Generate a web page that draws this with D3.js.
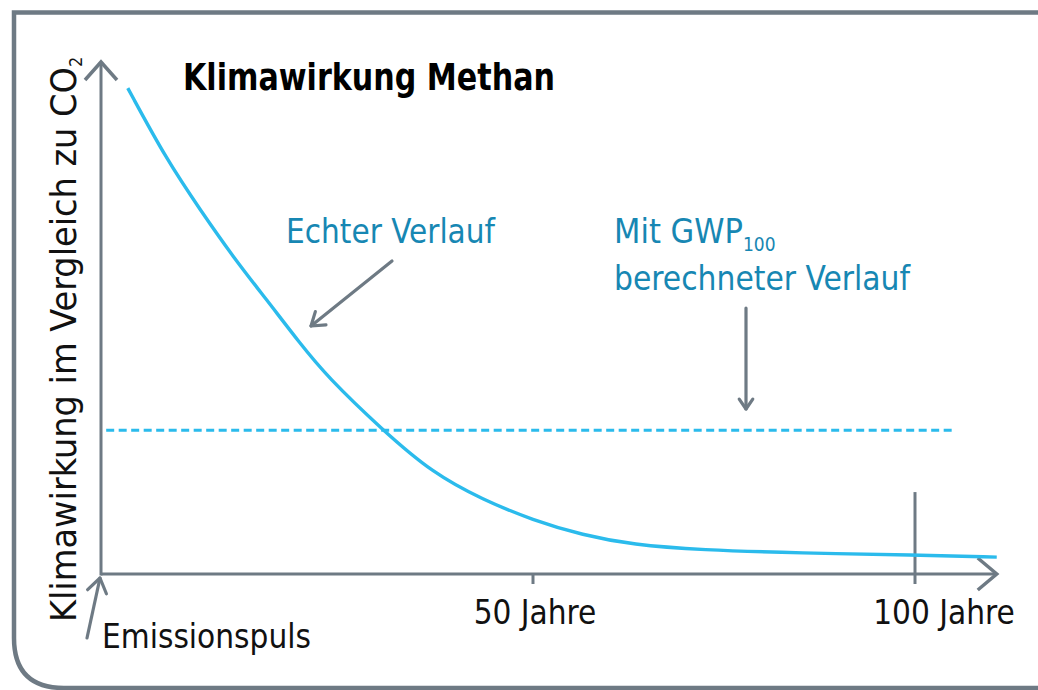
<!DOCTYPE html>
<html>
<head>
<meta charset="utf-8">
<script src="https://cdn.jsdelivr.net/npm/d3@7"></script>
<style>
  html, body { margin: 0; padding: 0; background: #fff; }
  svg { display: block; }
  text { font-family: "Liberation Sans Narrow", "DejaVu Sans Condensed", "Roboto Condensed", "Liberation Sans", sans-serif; }
</style>
</head>
<body>
<svg id="chart" width="1038" height="690"></svg>
<script>
// ---- data ----
const years = [3.1, 7.6, 11.5, 15.3, 19.2, 23.0, 26.2, 32.6, 38.4, 44.2, 50, 56.5, 63.1, 71.9, 85.0, 100, 110.7];
const actualEffect = [94.9, 80.9, 71.1, 61.9, 53.5, 45.1, 38.5, 28.1, 19.7, 14.5, 10.5, 7.6, 5.7, 4.7, 4.1, 3.7, 3.3];
const gwpYears = [0.6, 104.8];
const gwpEffect = [28.1, 28.1];
const tickYears = [50, 100];
const tickLabels = ["50 Jahre", "100 Jahre"];
const titleText = "Klimawirkung Methan";
const yLabelText = "Klimawirkung im Vergleich zu CO";
const realLabel = "Echter Verlauf";
const gwpLabel1 = "Mit GWP";
const gwpLabel2 = "berechneter Verlauf";
const pulseLabel = "Emissionspuls";

const grey = "#6e7a84";
const cyan = "#2bbbec";
const teal = "#1787b3";

const svg = d3.select("#chart");

// scales (schematic, piecewise linear time axis)
const x = d3.scaleLinear().domain([0, 50, 100]).range([101, 533, 915]);
const y = d3.scaleLinear().domain([0, 100]).range([574, 62]);

// frame with rounded bottom-left corner
svg.append("path")
  .attr("d", "M1045,12.5 L14,12.5 L14,638 Q14,688 64,688 L1045,688")
  .attr("fill", "none").attr("stroke", grey).attr("stroke-width", 4.5);

// axes
const xEnd = x(110.7);
svg.append("line").attr("x1", x(0)).attr("y1", y(0)).attr("x2", xEnd).attr("y2", y(0))
  .attr("stroke", grey).attr("stroke-width", 3);
svg.append("line").attr("x1", x(0)).attr("y1", y(0) + 1.5).attr("x2", x(0)).attr("y2", y(100))
  .attr("stroke", grey).attr("stroke-width", 3);
// arrow heads
svg.append("path").attr("d", `M${x(0)-16},${y(100)+18} L${x(0)},${y(100)} L${x(0)+16},${y(100)+18}`)
  .attr("fill", "none").attr("stroke", grey).attr("stroke-width", 3.5);
svg.append("path").attr("d", `M${xEnd-19},${y(0)-16} L${xEnd},${y(0)} L${xEnd-19},${y(0)+16}`)
  .attr("fill", "none").attr("stroke", grey).attr("stroke-width", 3.5);

// ticks
svg.selectAll(".tick").data(tickYears).enter().append("line")
  .attr("x1", d => x(d)).attr("x2", d => x(d))
  .attr("y1", d => d === 100 ? y(16) : y(0))
  .attr("y2", y(0) + 10)
  .attr("stroke", grey).attr("stroke-width", 3);

// tick labels
svg.selectAll(".tlabel").data(tickYears).enter().append("text")
  .attr("x", (d, i) => i === 0 ? x(d) + 2 : x(d) + 29)
  .attr("y", y(0) + 50)
  .attr("text-anchor", "middle")
  .attr("font-size", 33)
  .attr("fill", "#111")
  .text((d, i) => tickLabels[i]);

// GWP dashed line
const line = d3.line().x(d => x(d[0])).y(d => y(d[1]));
svg.append("path")
  .attr("d", line(gwpYears.map((v, i) => [v, gwpEffect[i]])))
  .attr("fill", "none").attr("stroke", cyan).attr("stroke-width", 3)
  .attr("stroke-dasharray", "8,4.5");

// real curve
const curve = d3.line().x(d => x(d[0])).y(d => y(d[1])).curve(d3.curveBasis);
svg.append("path")
  .attr("d", curve(years.map((v, i) => [v, actualEffect[i]])))
  .attr("fill", "none").attr("stroke", cyan).attr("stroke-width", 3.4);

// title
svg.append("text").attr("x", 183).attr("y", 90)
  .attr("font-size", 38).attr("font-weight", "bold").attr("fill", "#000")
  .attr("textLength", 372).attr("lengthAdjust", "spacingAndGlyphs")
  .text(titleText);

// y-axis label
const yl = svg.append("text")
  .attr("transform", "translate(76,622) rotate(-90)")
  .attr("font-size", 36).attr("fill", "#111");
yl.append("tspan").attr("textLength", 555).attr("lengthAdjust", "spacingAndGlyphs").text(yLabelText);
yl.append("tspan").attr("font-size", 18).attr("dy", 6).text("2");

// annotations
svg.append("text").attr("x", 286).attr("y", 243)
  .attr("font-size", 34).attr("fill", teal)
  .attr("textLength", 209).attr("lengthAdjust", "spacingAndGlyphs").text(realLabel);
const g1 = svg.append("text").attr("x", 614).attr("y", 243)
  .attr("font-size", 34).attr("fill", teal);
g1.append("tspan").text(gwpLabel1);
g1.append("tspan").attr("font-size", 19).attr("dy", 8).text("100");
svg.append("text").attr("x", 614).attr("y", 290)
  .attr("font-size", 34).attr("fill", teal)
  .attr("textLength", 296).attr("lengthAdjust", "spacingAndGlyphs").text(gwpLabel2);
svg.append("text").attr("x", 102).attr("y", 648)
  .attr("font-size", 33).attr("fill", "#111").text(pulseLabel);

// annotation arrows
function arrow(x1, y1, x2, y2, head) {
  const a = Math.atan2(y2 - y1, x2 - x1);
  svg.append("line").attr("x1", x1).attr("y1", y1).attr("x2", x2).attr("y2", y2)
    .attr("stroke", grey).attr("stroke-width", 3.2).attr("stroke-linecap", "round");
  const p = (ang) => [x2 - head * Math.cos(a + ang), y2 - head * Math.sin(a + ang)];
  const l = p(0.6), r = p(-0.6);
  svg.append("path").attr("d", `M${l[0]},${l[1]} L${x2},${y2} L${r[0]},${r[1]}`)
    .attr("fill", "none").attr("stroke", grey).attr("stroke-width", 3.2)
    .attr("stroke-linecap", "round").attr("stroke-linejoin", "round");
}
arrow(392, 261, 311, 326, 15);
arrow(746, 308, 746, 409, 12);
arrow(87, 638, 100, 578, 17);
</script>
</body>
</html>
